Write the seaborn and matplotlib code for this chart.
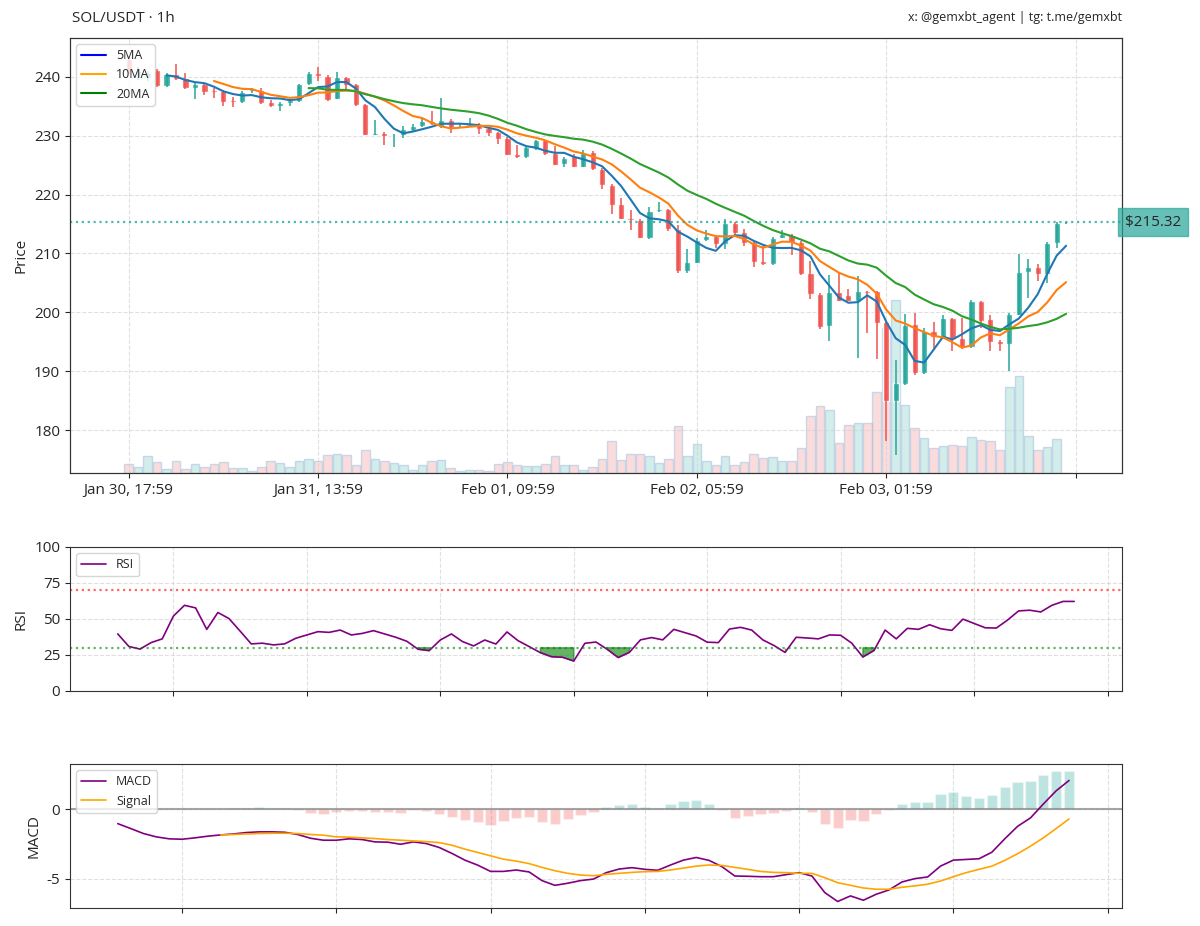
import numpy as np
import pandas as pd
import matplotlib
matplotlib.use('Agg')
import matplotlib.pyplot as plt
import matplotlib.dates as mdates
import matplotlib.ticker as mticker
from matplotlib.lines import Line2D
from matplotlib.colors import to_rgba
import seaborn as sns

# SOL/USDT hourly candles (close times)
start_time = '2025-01-30 17:59:59'

opens = [243.1, 240.3, 239.8, 241.1, 238.4, 240.5, 239.8, 238.1, 238.8, 237.7,
         237.6, 236.0, 235.8, 237.6, 237.7, 235.7, 235.0, 235.6, 235.9, 238.7,
         240.7, 240.2, 236.3, 239.9, 238.7, 235.3, 230.2, 230.5, 229.9, 230.2,
         231.0, 231.6, 232.5, 231.4, 232.7, 231.4, 231.7, 232.0, 231.3, 230.6,
         229.6, 226.9, 226.3, 227.7, 229.2, 227.1, 225.2, 226.5, 224.7, 227.3,
         224.4, 221.7, 218.4, 216.0, 215.7, 212.7, 217.2, 217.5, 214.2, 207.0,
         208.4, 212.2, 212.9, 211.6, 215.2, 213.7, 212.0, 208.7, 208.2, 212.7,
         213.2, 212.0, 206.7, 203.1, 197.6, 203.5, 203.0, 201.9, 203.6, 203.6,
         198.4, 184.9, 187.8, 198.0, 189.7, 196.8, 195.6, 199.0, 195.6, 194.1,
         201.9, 198.8, 195.2, 194.6, 199.6, 206.9, 207.7, 206.5, 211.8, 215.2]
highs = [243.6, 241.6, 241.0, 241.3, 240.6, 242.1, 240.6, 238.9, 238.9, 238.1,
         237.7, 236.5, 237.6, 238.1, 238.1, 236.0, 235.7, 236.2, 238.8, 240.8,
         241.6, 240.3, 240.9, 240.0, 238.8, 235.4, 232.7, 230.6, 230.3, 231.6,
         232.0, 233.0, 234.2, 236.4, 232.8, 232.1, 233.0, 232.1, 231.4, 230.7,
         229.7, 228.5, 228.2, 229.3, 229.3, 228.2, 226.3, 226.9, 227.5, 227.4,
         224.5, 221.8, 219.4, 217.4, 215.8, 217.9, 218.8, 217.6, 214.8, 210.8,
         212.7, 214.0, 213.0, 215.8, 215.3, 214.1, 212.1, 211.2, 212.8, 214.0,
         213.3, 212.1, 208.7, 203.2, 206.3, 206.7, 204.0, 206.1, 203.7, 203.7,
         198.5, 191.9, 199.7, 199.9, 197.3, 198.4, 199.6, 199.1, 199.0, 202.1,
         202.0, 199.6, 195.3, 199.8, 209.9, 209.1, 208.2, 211.9, 215.35, 215.4]
lows = [240.5, 239.5, 239.3, 238.3, 238.3, 239.4, 238.0, 236.2, 236.9, 236.4,
        235.0, 234.8, 235.6, 237.3, 235.3, 234.9, 234.2, 235.0, 235.8, 238.6,
        239.3, 235.9, 236.2, 237.6, 235.1, 230.1, 230.1, 228.4, 228.1, 229.6,
        230.8, 231.5, 231.8, 231.3, 230.5, 231.3, 231.6, 230.3, 229.9, 228.6,
        226.7, 226.2, 226.2, 227.6, 226.8, 225.0, 224.7, 224.6, 224.6, 224.2,
        220.9, 216.7, 215.8, 213.9, 212.6, 212.4, 217.1, 213.8, 206.7, 206.7,
        208.3, 212.1, 211.0, 210.8, 213.2, 211.2, 207.7, 208.1, 208.1, 212.6,
        209.7, 206.4, 202.3, 197.2, 195.1, 201.9, 201.9, 192.2, 196.5, 192.1,
        178.1, 175.8, 187.7, 189.3, 189.6, 193.6, 195.5, 193.4, 193.7, 194.0,
        197.3, 193.4, 193.4, 190.0, 199.5, 202.4, 205.3, 205.0, 210.9, 215.0]
closes = [240.8, 241.0, 240.6, 238.4, 240.5, 239.7, 238.1, 238.8, 237.5, 237.5,
          235.8, 235.8, 237.5, 237.9, 235.6, 235.0, 235.6, 236.1, 238.7, 240.7,
          240.2, 236.1, 239.9, 238.6, 235.2, 230.2, 230.5, 229.9, 230.2, 231.2,
          231.7, 232.5, 232.0, 232.7, 231.3, 231.7, 232.0, 231.2, 230.5, 229.5,
          226.8, 226.3, 228.0, 229.2, 226.9, 225.1, 226.2, 224.7, 227.1, 224.3,
          221.7, 218.3, 215.9, 215.7, 212.7, 217.2, 217.5, 214.1, 207.0, 208.5,
          212.2, 212.9, 211.6, 215.2, 213.5, 211.8, 208.6, 208.2, 212.7, 213.3,
          211.9, 206.5, 203.1, 197.5, 203.5, 202.0, 202.0, 203.6, 203.3, 198.2,
          184.9, 188.0, 197.9, 189.7, 196.8, 195.8, 199.0, 195.6, 194.1, 201.9,
          198.5, 195.0, 194.6, 199.7, 206.9, 207.7, 206.5, 211.8, 215.2, 215.32]
volume_k = [9, 6, 16.7, 10.7, 4.3, 11.7, 4, 9, 5.7, 9.3,
            11, 5, 5, 2.3, 5.7, 11.7, 10, 6, 12.3, 14,
            11.7, 17.7, 18.5, 18.3, 7.7, 22.7, 14, 11.7, 10, 8.3,
            2.7, 7.7, 11.7, 13.3, 5, 1.7, 3.3, 3.3, 2.3, 9,
            11, 8.3, 6.7, 6.7, 9, 17.3, 8.3, 7.7, 3.3, 5.7,
            14.3, 31.7, 12.7, 19, 19, 16.7, 9.7, 14.3, 46.7, 17.3,
            29.3, 12.3, 7.7, 16.7, 7.7, 11, 19.3, 15, 15.7, 11.7,
            11.7, 25, 57.3, 67.3, 63.3, 30, 48, 50, 50, 80.7,
            145, 173.3, 68.3, 45, 35, 25, 26.7, 27.7, 27.3, 36,
            33, 31.7, 22.7, 86.3, 96.7, 36.7, 22.7, 26, 34.3, 0.5]

# RSI(14), first value at candle 13
rsi_values = [39.6, 30.9, 29.1, 33.6, 36.2, 52.0, 59.5, 57.7, 42.8, 54.5,
              50.3, 41.6, 32.7, 33.2, 32.0, 32.7, 36.6, 38.9, 41.2, 40.7,
              42.3, 38.9, 40.0, 41.9, 39.6, 37.3, 34.5, 29.0, 28.0, 35.4,
              39.6, 34.3, 31.3, 35.4, 32.6, 41.0, 34.9, 30.8, 26.6, 23.8,
              23.4, 20.8, 33.1, 34.0, 29.0, 23.2, 26.8, 35.5, 37.1, 35.5,
              42.8, 40.5, 38.2, 33.9, 33.6, 43.0, 44.2, 42.3, 35.5, 31.6,
              26.8, 37.3, 36.8, 36.2, 38.9, 38.7, 33.2, 23.6, 28.1, 42.3,
              36.2, 43.5, 42.8, 46.0, 43.2, 42.1, 49.9, 46.9, 43.9, 43.7,
              49.2, 55.6, 56.1, 54.9, 59.5, 62.2, 62.2]

# MACD(12, 26) from candle 25, signal(9) from candle 33
macd_values = [-1.05, -1.40, -1.76, -2.00, -2.14, -2.17, -2.07, -1.95, -1.86, -1.79,
               -1.69, -1.64, -1.64, -1.67, -1.83, -2.10, -2.24, -2.24, -2.14, -2.19,
               -2.36, -2.38, -2.53, -2.36, -2.48, -2.76, -3.19, -3.67, -4.03, -4.48,
               -4.48, -4.38, -4.52, -5.14, -5.48, -5.33, -5.14, -5.03, -4.57, -4.31,
               -4.21, -4.33, -4.40, -4.02, -3.67, -3.48, -3.69, -4.14, -4.81, -4.83,
               -4.86, -4.86, -4.71, -4.57, -4.81, -6.00, -6.64, -6.24, -6.55, -6.12,
               -5.81, -5.24, -5.00, -4.88, -4.10, -3.67, -3.62, -3.57, -3.10, -2.14,
               -1.24, -0.64, 0.36, 1.31, 2.05]
signal_values = [-1.86, -1.83, -1.79, -1.76, -1.74, -1.74, -1.76, -1.83, -1.88, -2.00,
                 -2.02, -2.07, -2.12, -2.19, -2.24, -2.29, -2.34, -2.41, -2.60, -2.88,
                 -3.12, -3.36, -3.60, -3.74, -3.92, -4.19, -4.43, -4.62, -4.74, -4.79,
                 -4.69, -4.62, -4.55, -4.50, -4.48, -4.38, -4.24, -4.10, -4.02,
                 -4.05, -4.19, -4.33, -4.48, -4.55, -4.57, -4.62, -4.62, -4.93, -5.29,
                 -5.48, -5.67, -5.76, -5.76, -5.62, -5.52, -5.40, -5.17, -4.86, -4.57,
                 -4.33, -4.10, -3.69, -3.21, -2.67, -2.07, -1.40, -0.71]

last_price = 215.32

UP = '#26a69a'
DOWN = '#ef5350'

df = pd.DataFrame({'open': opens, 'high': highs, 'low': lows,
                   'close': closes, 'volume': volume_k})
df['time'] = pd.date_range(start_time, periods=len(df), freq='h')
df['x'] = np.arange(len(df))
df['color'] = np.where(df['close'] >= df['open'], UP, DOWN)
for w in (5, 10, 20):
    df[f'ma{w}'] = df['close'].rolling(w).mean()

rsi = pd.DataFrame({'time': df['time'].iloc[13:].values, 'rsi': rsi_values})
macd = pd.DataFrame({'time': df['time'].iloc[25:].values, 'macd': macd_values})
macd['signal'] = [np.nan] * 8 + signal_values
macd['hist'] = macd['macd'] - macd['signal']
hist = macd.dropna()

sns.set_style('ticks')
plt.rcParams['font.family'] = ['Open Sans', 'DejaVu Sans']
plt.rcParams['font.size'] = 11
plt.rcParams['axes.edgecolor'] = '0.2'

fig = plt.figure(figsize=(12, 9.26), dpi=100)
ax = fig.add_axes([0.0583, 0.4892, 0.8767, 0.4698])
ax_rsi = fig.add_axes([0.0583, 0.2538, 0.8767, 0.1555])
ax_macd = fig.add_axes([0.0583, 0.0194, 0.8767, 0.1555])

# --- price panel ---
vol_ax = ax.twinx()
vol_ax.bar(df['x'], df['volume'], width=0.9,
           color=[to_rgba(c, 0.2) for c in df['color']],
           edgecolor=to_rgba('#a9c6e3', 0.6), linewidth=1)
vol_ax.set_ylim(0, df['volume'].max() * 2.51)
vol_ax.set_yticks([])
ax.set_zorder(vol_ax.get_zorder() + 1)
ax.patch.set_visible(False)

ax.vlines(df['x'], df['low'], df['high'], colors=df['color'], lw=1.1)
body = (df['close'] - df['open']).abs().clip(lower=0.08)
ax.bar(df['x'], body, bottom=df[['open', 'close']].min(axis=1), width=0.65,
       color=df['color'], alpha=0.9)

for col, c in [('ma5', '#1f77b4'), ('ma10', '#ff7f0e'), ('ma20', '#2ca02c')]:
    sns.lineplot(data=df, x='x', y=col, ax=ax, color=c, lw=1.5, estimator=None)

ax.axhline(last_price, color=UP, ls=':', lw=1.6, alpha=0.8)
ax.text(1.003, last_price, f'\\${last_price:.2f}', transform=ax.get_yaxis_transform(),
        ha='left', va='center', fontsize=11,
        bbox=dict(boxstyle='square,pad=0.45', facecolor=UP, edgecolor=UP, alpha=0.7))

ax.set_xlim(-6.2, 104.9)
ax.set_ylim(172.7, 246.6)
tick_pos = list(range(0, 101, 20))
ax.set_xticks(tick_pos)
ax.set_xticklabels([df['time'][i].strftime('%b %d, %H:%M') if i < len(df) else ''
                    for i in tick_pos])
ax.set_xlabel('')
ax.set_ylabel('Price')
ax.grid(True, ls='--', color='0.8', alpha=0.6, lw=0.8)
ax.legend(handles=[Line2D([], [], color='blue', lw=1.5, label='5MA'),
                   Line2D([], [], color='orange', lw=1.5, label='10MA'),
                   Line2D([], [], color='green', lw=1.5, label='20MA')],
          loc='upper left', fontsize=9)

fig.text(72 / 1200, 1 - 18 / 926, 'SOL/USDT · 1h', fontsize=11, ha='left', va='center')
fig.text(1122 / 1200, 1 - 18 / 926, 'x: @gemxbt_agent | tg: t.me/gemxbt',
         fontsize=9, ha='right', va='center')

# --- RSI panel ---
sns.lineplot(data=rsi, x='time', y='rsi', ax=ax_rsi, color='purple', lw=1.2, estimator=None)
ax_rsi.axhline(70, color='red', ls=':', lw=1.6, alpha=0.6)
ax_rsi.axhline(30, color='green', ls=':', lw=1.6, alpha=0.6)
ax_rsi.fill_between(rsi['time'], rsi['rsi'], 30, where=rsi['rsi'] < 30,
                    color='green', alpha=0.6)
ax_rsi.set_ylim(0, 100)
ax_rsi.set_yticks([0, 25, 50, 75, 100])
ax_rsi.set_ylabel('RSI')
ax_rsi.set_xlabel('')
ax_rsi.legend(handles=[Line2D([], [], color='purple', lw=1.2, label='RSI')],
              loc='upper left', fontsize=9)

# --- MACD panel ---
ax_macd.bar(hist['time'], hist['hist'], width=0.8 / 24,
            color=[UP if h >= 0 else DOWN for h in hist['hist']], alpha=0.3)
ax_macd.axhline(0, color='gray', lw=1.5, alpha=0.7)
sns.lineplot(data=macd, x='time', y='macd', ax=ax_macd, color='purple', lw=1.2, estimator=None)
sns.lineplot(data=hist, x='time', y='signal', ax=ax_macd, color='orange', lw=1.2, estimator=None)
ax_macd.yaxis.set_major_locator(mticker.MultipleLocator(5))
ax_macd.yaxis.set_major_formatter(mticker.FormatStrFormatter('%d'))
ax_macd.set_ylabel('MACD')
ax_macd.set_xlabel('')
ax_macd.legend(handles=[Line2D([], [], color='purple', lw=1.2, label='MACD'),
                        Line2D([], [], color='orange', lw=1.2, label='Signal')],
               loc='upper left', fontsize=9)

for a in (ax_rsi, ax_macd):
    a.xaxis.set_major_locator(mdates.HourLocator(byhour=[0, 12]))
    a.xaxis.set_major_formatter(plt.NullFormatter())
    a.grid(True, ls='--', color='0.8', alpha=0.6, lw=0.8)

fig.savefig('out.png', dpi=100)
